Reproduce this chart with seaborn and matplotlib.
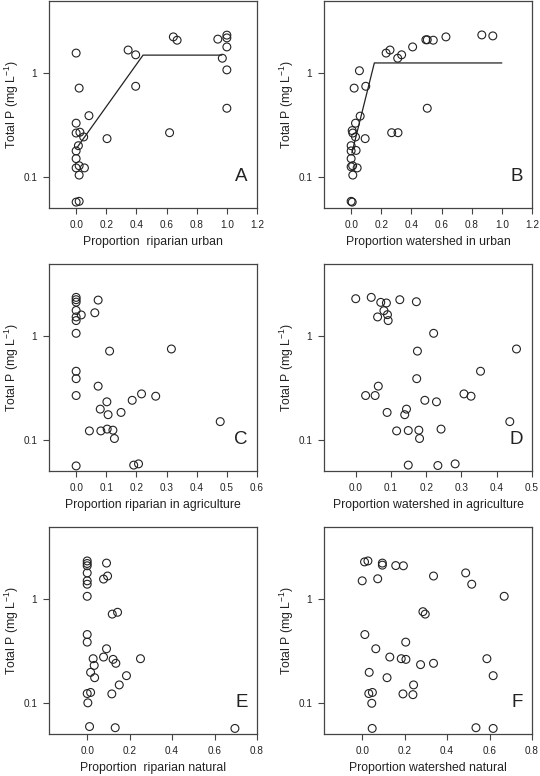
import numpy as np
import pandas as pd
import matplotlib
matplotlib.use("Agg")
import matplotlib.pyplot as plt
import seaborn as sns
from matplotlib.ticker import FixedLocator, FormatStrFormatter, NullLocator

# ---- data ----
# A: riparian urban
a_x = [0.0, 0.02, 0.085, 0.0, 0.0, 0.025, 0.05, 0.015, 0.0, 0.0, 0.0, 0.02, 0.055,
       0.02, 0.0, 0.02, 0.205, 0.345, 0.395, 0.395, 0.62, 0.645, 0.67, 0.94, 1.0,
       1.0, 1.0, 0.97, 1.0, 1.0]
a_y = [1.57, 0.72, 0.39, 0.33, 0.265, 0.27, 0.243, 0.2, 0.178, 0.15, 0.122, 0.128,
       0.122, 0.104, 0.057, 0.058, 0.234, 1.68, 1.51, 0.75, 0.267, 2.25, 2.09, 2.14,
       2.34, 2.2, 1.8, 1.40, 1.08, 0.46]
a_fit_x = [0.004, 0.444, 0.967]
a_fit_y = [0.19, 1.50, 1.50]

# B: watershed in urban
b_x = [0.232, 0.258, 0.309, 0.335, 0.408, 0.496, 0.505, 0.545, 0.629, 0.867, 0.94,
       0.055, 0.02, 0.097, 0.505, 0.06, 0.029, 0.007, 0.011, 0.029, 0.269, 0.311,
       0.093, 0.0, 0.0, 0.033, 0.0, 0.0, 0.01, 0.04, 0.011, 0.0, 0.007]
b_y = [1.57, 1.68, 1.40, 1.51, 1.80, 2.11, 2.11, 2.09, 2.25, 2.35, 2.30,
       1.06, 0.72, 0.75, 0.46, 0.386, 0.33, 0.28, 0.265, 0.243, 0.267, 0.267,
       0.234, 0.2, 0.178, 0.18, 0.15, 0.125, 0.128, 0.122, 0.104, 0.058, 0.057]
b_fit_x = [0.005, 0.154, 1.0]
b_fit_y = [0.17, 1.26, 1.26]

# C: riparian in agriculture
c_x = [0.0, 0.0, 0.0, 0.0, 0.0, 0.0, 0.0, 0.017, 0.073, 0.062, 0.111, 0.316, 0.0,
       0.0, 0.0, 0.073, 0.102, 0.08, 0.106, 0.149, 0.186, 0.217, 0.264, 0.478,
       0.044, 0.082, 0.103, 0.122, 0.127, 0.0, 0.191, 0.207]
c_y = [2.38, 2.26, 2.14, 1.78, 1.54, 1.42, 1.07, 1.61, 2.24, 1.69, 0.72, 0.755,
       0.46, 0.39, 0.268, 0.33, 0.233, 0.198, 0.175, 0.184, 0.241, 0.278, 0.264,
       0.150, 0.122, 0.122, 0.127, 0.124, 0.103, 0.056, 0.057, 0.0586]

# D: watershed in agriculture
d_x = [0.0, 0.044, 0.071, 0.087, 0.125, 0.172, 0.080, 0.090, 0.062, 0.092, 0.221,
       0.175, 0.456, 0.354, 0.173, 0.064, 0.028, 0.055, 0.307, 0.327, 0.196, 0.229,
       0.144, 0.139, 0.089, 0.437, 0.116, 0.149, 0.179, 0.242, 0.181, 0.149, 0.233,
       0.282]
d_y = [2.31, 2.38, 2.13, 2.10, 2.26, 2.16, 1.77, 1.62, 1.54, 1.42, 1.07,
       0.72, 0.755, 0.46, 0.39, 0.33, 0.268, 0.268, 0.278, 0.264, 0.241, 0.233,
       0.198, 0.175, 0.184, 0.150, 0.122, 0.123, 0.124, 0.127, 0.103, 0.057, 0.0565,
       0.0586]

# E: riparian natural
e_x = [0.0, 0.0, 0.0, 0.0, 0.0, 0.0, 0.0, 0.091, 0.096, 0.077, 0.118, 0.143, 0.0,
       0.0, 0.091, 0.028, 0.077, 0.122, 0.135, 0.251, 0.033, 0.016, 0.035, 0.185,
       0.151, 0.0, 0.016, 0.116, 0.003, 0.011, 0.132, 0.696]
e_y = [2.35, 2.22, 2.11, 1.80, 1.51, 1.40, 1.07, 2.24, 1.68, 1.57, 0.72, 0.75, 0.457,
       0.386, 0.333, 0.267, 0.277, 0.263, 0.241, 0.267, 0.23, 0.197, 0.175, 0.183,
       0.149, 0.123, 0.126, 0.122, 0.1, 0.059, 0.0575, 0.0566]

# F: watershed natural
f_x = [0.011, 0.027, 0.095, 0.095, 0.158, 0.194, 0.0, 0.073, 0.336, 0.4875, 0.516,
       0.669, 0.286, 0.297, 0.0125, 0.205, 0.064, 0.130, 0.184, 0.206, 0.5875, 0.275,
       0.336, 0.033, 0.117, 0.617, 0.242, 0.048, 0.031, 0.192, 0.239, 0.045, 0.047,
       0.536, 0.617]
f_y = [2.30, 2.35, 2.24, 2.14, 2.12, 2.11, 1.51, 1.58, 1.68, 1.80, 1.40, 1.07, 0.76,
       0.72, 0.457, 0.386, 0.333, 0.277, 0.267, 0.263, 0.267, 0.234, 0.241, 0.197,
       0.175, 0.183, 0.149, 0.126, 0.123, 0.122, 0.120, 0.099, 0.0566, 0.0575, 0.0566]

panels = [
    ("A", a_x, a_y, "Proportion  riparian urban", (-0.18, 1.2), [0.0, 0.2, 0.4, 0.6, 0.8, 1.0, 1.2], (a_fit_x, a_fit_y)),
    ("B", b_x, b_y, "Proportion watershed in urban", (-0.18, 1.2), [0.0, 0.2, 0.4, 0.6, 0.8, 1.0, 1.2], (b_fit_x, b_fit_y)),
    ("C", c_x, c_y, "Proportion riparian in agriculture", (-0.09, 0.6), [0.0, 0.1, 0.2, 0.3, 0.4, 0.5, 0.6], None),
    ("D", d_x, d_y, "Proportion watershed in agriculture", (-0.09, 0.5), [0.0, 0.1, 0.2, 0.3, 0.4, 0.5], None),
    ("E", e_x, e_y, "Proportion  riparian natural", (-0.18, 0.8), [0.0, 0.2, 0.4, 0.6, 0.8], None),
    ("F", f_x, f_y, "Proportion watershed natural", (-0.18, 0.8), [0.0, 0.2, 0.4, 0.6, 0.8], None),
]

sns.set_style("ticks")
plt.rcParams["font.family"] = ["Liberation Sans", "DejaVu Sans"]
plt.rcParams["mathtext.default"] = "regular"

ink = "#222222"
frame = "#444444"

fig = plt.figure(figsize=(5.4, 7.76), dpi=100)
W, H = 540, 776
lefts = [49, 324]
tops = [1, 264, 527]
aw, ah = 208, 207

for i, (letter, xs, ys, xlabel, xlim, xticks, fit) in enumerate(panels):
    col = i % 2
    row = i // 2
    ax = fig.add_axes([lefts[col] / W, (H - tops[row] - ah) / H, aw / W, ah / H])
    df = pd.DataFrame({"x": xs, "y": ys})
    sns.scatterplot(data=df, x="x", y="y", ax=ax, s=32, marker="o",
                    facecolor="none", edgecolor=ink, linewidth=0.8, legend=False)
    if fit is not None:
        ax.plot(fit[0], fit[1], color=ink, lw=0.9)
    ax.set_yscale("log")
    ax.set_ylim(0.05, 5)
    ax.set_xlim(*xlim)
    ax.yaxis.set_major_locator(FixedLocator([0.1, 1]))
    ax.set_yticklabels(["0.1", "1"])
    ax.yaxis.set_minor_locator(NullLocator())
    ax.xaxis.set_major_locator(FixedLocator(xticks))
    ax.xaxis.set_major_formatter(FormatStrFormatter("%.1f"))
    ax.tick_params(axis="both", labelsize=7.2, length=4, width=0.8,
                   color=frame, labelcolor=ink, pad=4.5)
    for sp in ax.spines.values():
        sp.set_visible(True)
        sp.set_color(frame)
        sp.set_linewidth(0.9)
    ax.set_xlabel(xlabel, fontsize=8.8, color=ink, labelpad=4.5)
    ax.set_ylabel("Total P (mg L$^{-1}$)", fontsize=8.8, color=ink, labelpad=1.5)
    ax.text(0.955, 0.11, letter, transform=ax.transAxes, ha="right", va="bottom",
            fontsize=13.5, color=ink)

fig.savefig("out.png", dpi=100)
